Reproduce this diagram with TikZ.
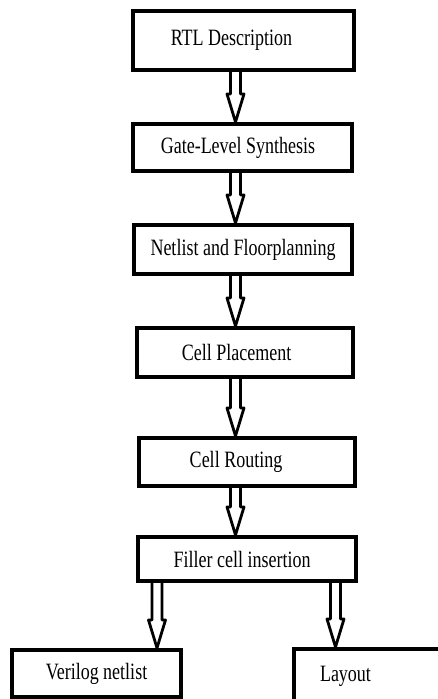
\documentclass[tikz,border=0pt]{standalone}
\usepackage{fontspec}
\usepackage{graphicx}
\setmainfont{Liberation Serif}
\usetikzlibrary{calc,backgrounds}
\newcommand\stretchtxt[2][0pt]{\scalebox{1}[1.3]{#2}\hspace*{#1}}
\tikzset{
  box/.style={draw, line width=4pt, fill=white, inner sep=0pt,
    font=\fontsize{18}{20}\selectfont},
  barrow/.style={draw, line width=2.8pt, fill=white, line join=round,
    to path={let \p1=(\tikztostart), \p2=(\tikztotarget) in
      (\x1-5pt,\y1) -- (\x1-5pt,\y2+28pt) -- (\x1-8.5pt,\y2+28pt) -- (\x2,\y2)
      -- (\x1+8.5pt,\y2+28pt) -- (\x1+5pt,\y2+28pt) -- (\x1+5pt,\y1)}}
}
\begin{document}
\begin{tikzpicture}[x=1pt,y=-1pt]
\path[use as bounding box] (0,0) rectangle (438,699);
\node[box, minimum width=221pt, minimum height=59pt] (rtl) at (243.5,40.5) {\stretchtxt[24pt]{RTL Description}};
\node[box, minimum width=219pt, minimum height=47pt] (gls) at (242.5,147.5) {\stretchtxt[9pt]{Gate-Level Synthesis}};
\node[box, minimum width=218pt, minimum height=49pt] (nfp) at (243,249.5) {\stretchtxt{Netlist and Floorplanning}};
\node[box, minimum width=216pt, minimum height=49pt] (cp) at (245,352.5) {\stretchtxt[17pt]{Cell Placement}};
\node[box, minimum width=216pt, minimum height=48pt] (cr) at (247,462) {\stretchtxt[22pt]{Cell Routing}};
\node[box, minimum width=218pt, minimum height=44pt] (fci) at (247,559) {\stretchtxt[10pt]{Filler cell insertion}};
\node[box, minimum width=169pt, minimum height=47pt] (vn) at (96.5,673.5) {\stretchtxt{Verilog netlist}};
\node[box, anchor=north west, minimum height=60pt, text width=101pt, inner xsep=26pt, align=left] (lay) at (292,647) {\raisebox{10pt}{\stretchtxt{Layout}}};
\coordinate (ax) at (235.5,0);
\coordinate (al) at (157,0);
\coordinate (ar) at (335.5,0);
\begin{pgfonlayer}{background}
\draw[barrow] (rtl.south -| ax) to (gls.north -| ax);
\draw[barrow] (gls.south -| ax) to (nfp.north -| ax);
\draw[barrow] (nfp.south -| ax) to (cp.north -| ax);
\draw[barrow] (cp.south -| ax) to (cr.north -| ax);
\draw[barrow] (cr.south -| ax) to (fci.north -| ax);
\draw[barrow] (fci.south -| al) to (vn.north -| al);
\draw[barrow] (fci.south -| ar) to (lay.north -| ar);
\end{pgfonlayer}
\end{tikzpicture}
\end{document}
